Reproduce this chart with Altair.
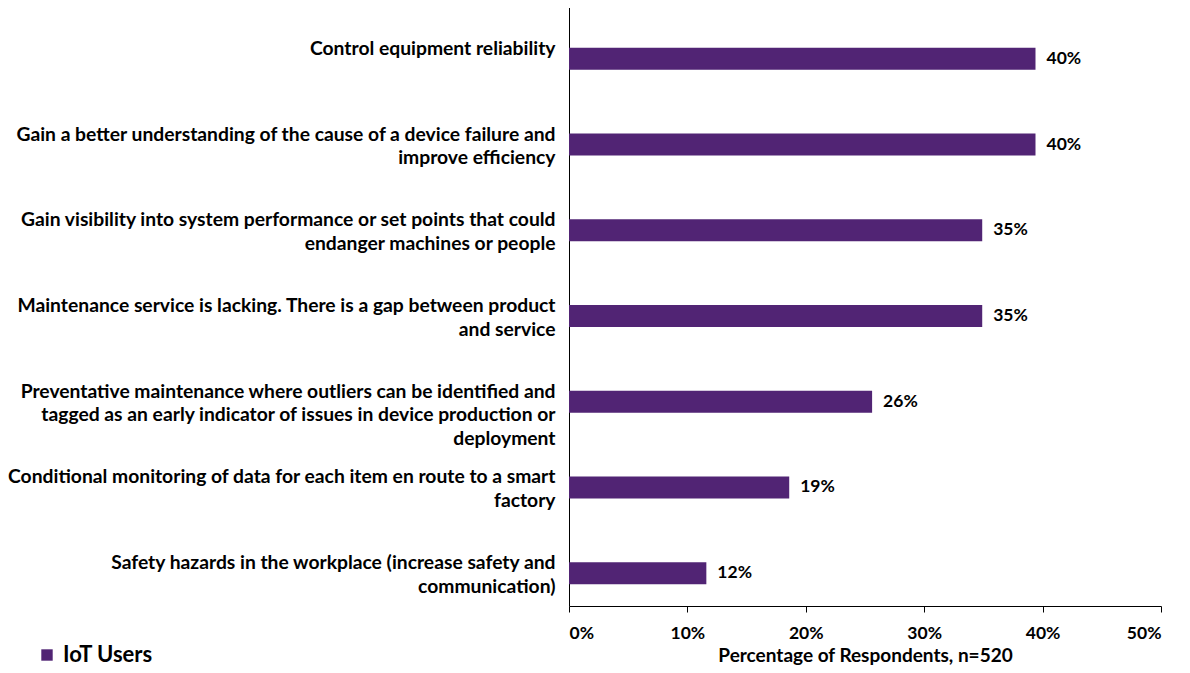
import altair as alt
import pandas as pd

categories = [
    "Control equipment reliability",
    "Gain a better understanding of the cause of a device failure and\nimprove efficiency",
    "Gain visibility into system performance or set points that could\nendanger machines or people",
    "Maintenance service is lacking. There is a gap between product\nand service",
    "Preventative maintenance where outliers can be identified and\ntagged as an early indicator of issues in device production or\ndeployment",
    "Conditional monitoring of data for each item en route to a smart\nfactory",
    "Safety hazards in the workplace (increase safety and\ncommunication)",
]
values = [39.4, 39.4, 34.9, 34.9, 25.6, 18.6, 11.6]
value_labels = ["40%", "40%", "35%", "35%", "26%", "19%", "12%"]
series = ["IoT Users"] * len(categories)
x_ticks = [0, 10, 20, 30, 40, 50]

df = pd.DataFrame({"category": categories, "value": values,
                   "label": value_labels, "series": series})

FONT = "Lato"
PURPLE = "#512474"

y_enc = alt.Y("category:N", sort=categories, title=None,
              scale=alt.Scale(paddingInner=0, paddingOuter=0),
              axis=alt.Axis(labelExpr="split(datum.label, '\\n')",
                            labelFont=FONT, labelFontSize=19.3, labelFontWeight="bold",
                            labelColor="black", labelAlign="right", labelBaseline="middle",
                            labelLineHeight=23.5, labelPadding=14, labelLimit=0,
                            ticks=False, domainColor="black", domainWidth=1))

x_enc = alt.X("value:Q", title="Percentage of Respondents, n=520",
              scale=alt.Scale(domain=[0, 50], nice=False),
              axis=alt.Axis(values=x_ticks, labelExpr="datum.value + '%'",
                            labelFont=FONT, labelFontSize=17.5, labelFontWeight="bold",
                            labelColor="black", labelPadding=12,
                            titleFont=FONT, titleFontSize=19, titleFontWeight="bold",
                            titleColor="black", titlePadding=5,
                            tickColor="black", tickSize=6, domainColor="black",
                            grid=False))

bars = alt.Chart(df).mark_bar(size=22, yOffset=10).encode(
    y=y_enc, x=x_enc,
    color=alt.Color("series:N", title=None,
                    scale=alt.Scale(domain=["IoT Users"], range=[PURPLE]),
                    legend=alt.Legend(orient="none", legendX=-533, legendY=638,
                                      symbolType="square", symbolSize=130,
                                      symbolStrokeWidth=0,
                                      labelFont=FONT, labelFontSize=22,
                                      labelFontWeight="bold", labelColor="black",
                                      labelOffset=5)),
)

texts = alt.Chart(df).mark_text(align="left", baseline="middle", dx=11, yOffset=10,
                                font=FONT, fontSize=17.5, fontWeight="bold",
                                color="black").encode(
    y=alt.Y("category:N", sort=categories),
    x="value:Q",
    text="label:N",
)

chart = alt.layer(bars, texts).properties(
    width=592, height=600,
    autosize=alt.AutoSizeParams(type="none"),
    padding={"left": 561, "top": -2, "right": 10, "bottom": 61},
    background="white",
).configure_view(stroke=None)

chart.save("out.html", embed_options={"renderer": "svg", "actions": False})
